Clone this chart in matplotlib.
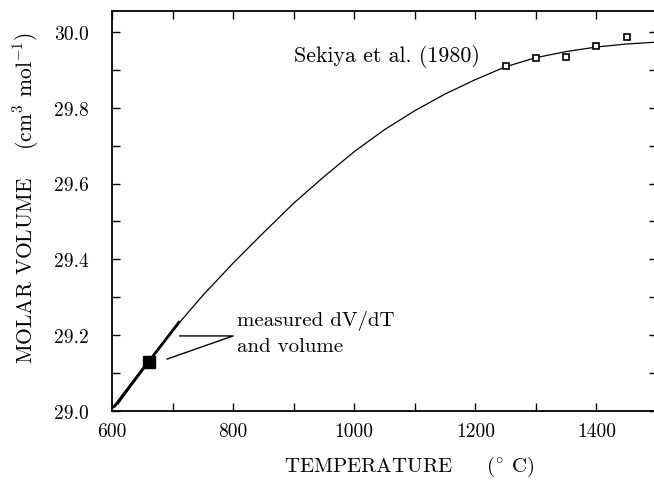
import numpy as np
import matplotlib
matplotlib.use("Agg")
import matplotlib.pyplot as plt

plt.rcParams['font.family'] = ['cmr10', 'DejaVu Serif']
plt.rcParams['mathtext.fontset'] = 'cm'
plt.rcParams['axes.formatter.use_mathtext'] = True

# fitted curve
curve_t = [600, 650, 700, 750, 800, 850, 900, 950, 1000, 1050,
           1100, 1150, 1200, 1250, 1300, 1350, 1400, 1450, 1500]
curve_v = [29.005, 29.112, 29.212, 29.305, 29.39, 29.47, 29.548, 29.618, 29.684, 29.742,
           29.792, 29.836, 29.874, 29.908, 29.932, 29.948, 29.96, 29.968, 29.973]

# Sekiya et al. (1980) points
sek_t = [1250, 1300, 1350, 1400, 1450]
sek_v = [29.91, 29.931, 29.934, 29.963, 29.987]

# measured point and dV/dT segment
meas_t = [661]
meas_v = [29.129]
slope_t = [603, 712]
slope_v = [29.01, 29.237]
slope2_t = [610, 652]
slope2_v = [29.018, 29.112]

# pointer lines of the note
ptr_t = [712, 800, 691]
ptr_v = [29.198, 29.198, 29.137]

xticks = [600, 800, 1000, 1200, 1400]
yticks = [29.0, 29.2, 29.4, 29.6, 29.8, 30.0]

fig = plt.figure(figsize=(6.54, 4.81), dpi=100)
ax = fig.add_axes([112 / 654, 69 / 481, 545 / 654, 400 / 481])

ax.plot(curve_t, curve_v, color='black', lw=0.9)
ax.plot(slope_t, slope_v, color='black', lw=2.0, solid_capstyle='butt')
ax.plot(slope2_t, slope2_v, color='black', lw=0.8)
ax.plot(sek_t, sek_v, linestyle='none', marker='s', ms=5,
        mfc='white', mec='black', mew=1.2)
ax.plot(meas_t, meas_v, linestyle='none', marker='s', ms=8, color='black')
ax.plot(ptr_t, ptr_v, color='black', lw=1.0)

ax.text(806, 29.206, "measured dV/dT\nand volume", fontsize=15,
        ha='left', va='center', linespacing=1.5)
ax.text(1054, 29.937, "Sekiya et al. (1980)", fontsize=15.8, ha='center', va='center')

ax.set_xlim(600, 1500)
ax.set_ylim(29.0, 30.055)
ax.set_xticks(xticks, [str(t) for t in xticks])
ax.set_yticks(yticks, ["%.1f" % v for v in yticks])
ax.set_xticks(np.arange(700, 1500, 200), minor=True)
ax.set_yticks(np.arange(29.1, 30.0, 0.2), minor=True)
ax.tick_params(which='both', direction='in', top=True, right=True,
               length=6, width=1.0)
ax.tick_params(axis='x', labelsize=14, pad=8)
ax.tick_params(axis='y', labelsize=14, pad=17)
for s in ax.spines.values():
    s.set_linewidth(1.3)

ax.set_xlabel(r"TEMPERATURE     (${}^{\circ}$ C)", fontsize=15, va='center')
ax.xaxis.set_label_coords((409 - 112) / 545, (412 - 467) / 400)
ax.set_ylabel(r"MOLAR VOLUME    (cm$^3$ mol$^{-1}$)", fontsize=15.5, va='center')
ax.yaxis.set_label_coords((26 - 112) / 545, (412 - 198) / 400)

fig.savefig("out.png", dpi=100)
